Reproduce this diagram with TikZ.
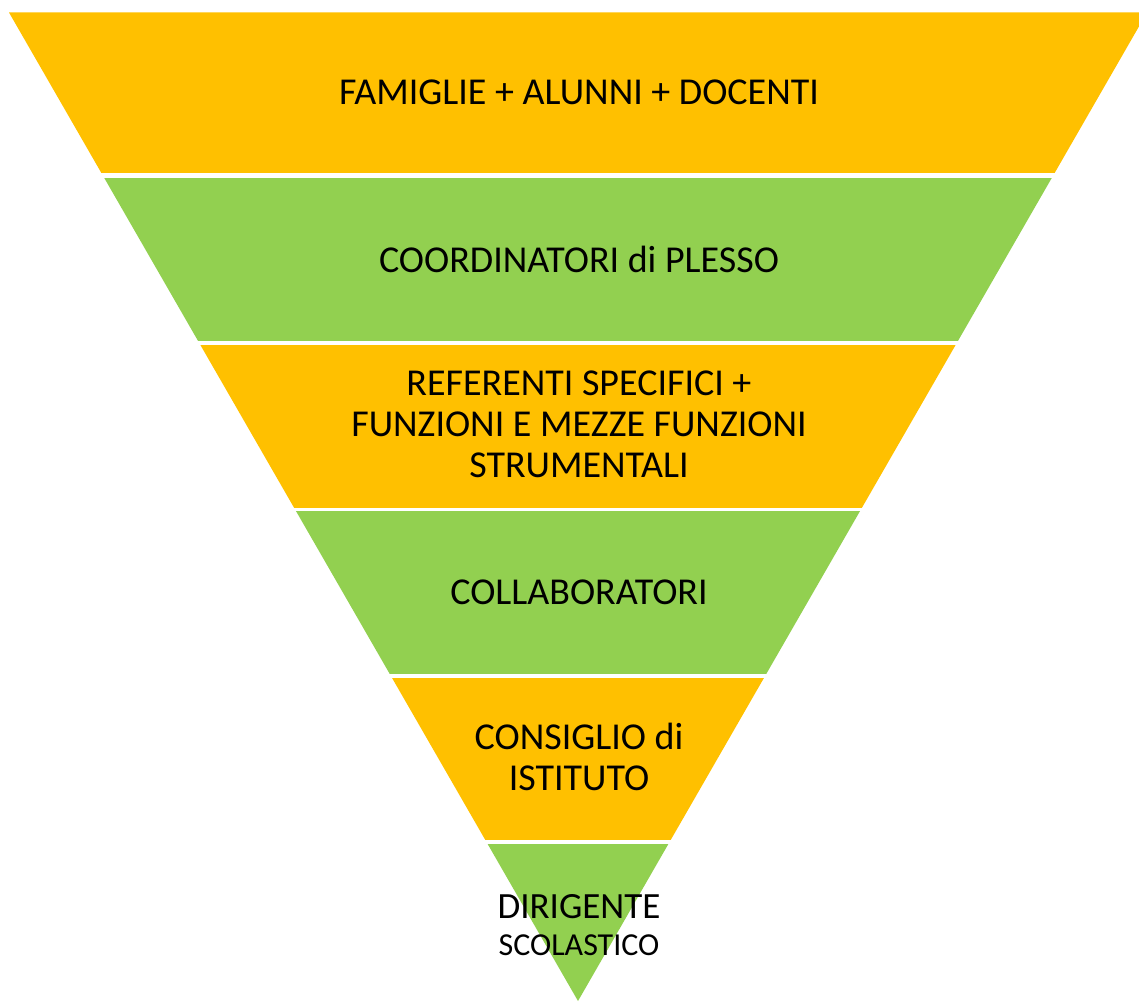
\documentclass[tikz,border=0pt]{standalone}
\usepackage{fontspec}
\setmainfont{Carlito}
\definecolor{bandorange}{HTML}{FFC000}
\definecolor{bandgreen}{HTML}{92D050}
\begin{document}
\begin{tikzpicture}[x=1pt,y=-1pt,
  lbl/.style={align=center,anchor=base,inner sep=0pt,font=\fontsize{38}{41}\selectfont,text=black}]
\useasboundingbox (0,0) rectangle (1139,1003);
\clip (0,0) rectangle (1139,1003);
\def\tri{(9,12.5) -- (1147,12.5) -- (578,1001) -- cycle}
\foreach \t/\b/\c in {12.5/173/bandorange,178/340/bandgreen,345/507/bandorange,511/673/bandgreen,678/839/bandorange,844/1003/bandgreen}{
  \begin{scope}
    \clip (0,\t) rectangle (1139,\b);
    \fill[\c] \tri;
  \end{scope}
}
\node[lbl] (l1) at (579,105) {FAMIGLIE + ALUNNI + DOCENTI};
\node[lbl] (l2) at (579,272) {COORDINATORI di PLESSO};
\node[lbl] (l3) at (579,477) {REFERENTI SPECIFICI +\\FUNZIONI E MEZZE FUNZIONI\\STRUMENTALI};
\node[lbl] (l4) at (579,604) {COLLABORATORI};
\node[lbl] (l5) at (579,790) {CONSIGLIO di\\ISTITUTO};
\node[lbl] (l6) at (579,955) {{\fontsize{37}{41}\selectfont DIRIGENTE}\\[-4pt]{\fontsize{32}{37}\selectfont SCOLASTICO}};
\end{tikzpicture}
\end{document}
